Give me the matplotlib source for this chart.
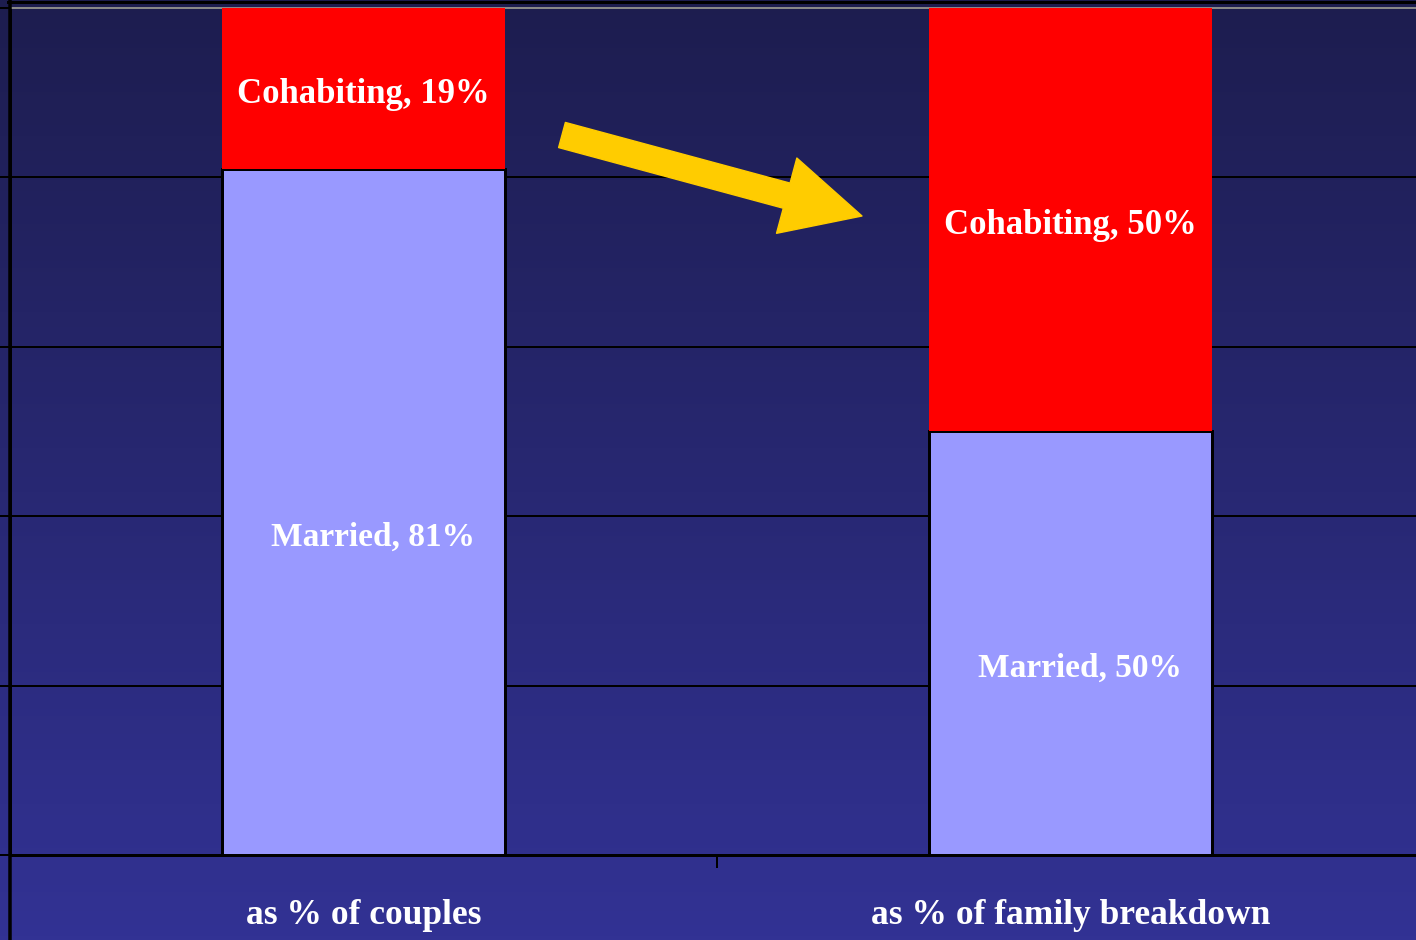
import matplotlib.pyplot as plt
import numpy as np
from matplotlib.patches import FancyArrowPatch
from matplotlib.lines import Line2D

categories = ['as % of couples', 'as % of family breakdown']
married = [81, 50]
cohabiting = [19, 50]

px = 0.72  # points per pixel at dpi 100

fig = plt.figure(figsize=(14.16, 9.4), dpi=100)

# background gradient, dark navy at top to lighter blue at bottom
bg = fig.add_axes([0, 0, 1, 1], zorder=-10)
grad = np.linspace(0, 1, 256).reshape(-1, 1)
top = np.array([0x1d, 0x1d, 0x4f]) / 255
bot = np.array([0x32, 0x32, 0x94]) / 255
img = top + grad[..., None] * (bot - top)
bg.imshow(img, aspect='auto', extent=[0, 1, 0, 1])
bg.axis('off')

ax = fig.add_axes([10 / 1416, 85 / 940, 1414 / 1416, 847 / 940])
ax.set_facecolor('none')
x = np.arange(len(categories))
b1 = ax.bar(x, married, width=0.4, color='#9999ff', edgecolor='black', linewidth=3 * px, zorder=3)
b2 = ax.bar(x, cohabiting, width=0.4, bottom=married, color='#ff0000', edgecolor='none', zorder=3)

ax.set_xlim(-0.5, 1.5)
ax.set_ylim(0, 100)
ax.set_yticks([0, 20, 40, 60, 80, 100])
ax.set_yticklabels([])
ax.yaxis.grid(True, color='black', linewidth=2 * px)
ax.set_axisbelow(True)
ax.get_ygridlines()[-1].set_color('#888888')
ax.tick_params(axis='y', direction='out', length=10 * px, width=2 * px, color='black')

ax.set_xticks(x)
ax.set_xticklabels([])
ax.tick_params(axis='x', which='major', length=0)
ax.set_xticks([-0.5, 0.5, 1.5], minor=True)
ax.tick_params(axis='x', which='minor', direction='out', length=13 * px, width=2 * px, color='black')

for s in ['left', 'bottom']:
    ax.spines[s].set_color('black')
    ax.spines[s].set_linewidth(3 * px)
ax.spines['right'].set_visible(False)
ax.spines['top'].set_color('#888888')
ax.spines['top'].set_linewidth(2 * px)

font = dict(family='Liberation Serif', weight='bold', color='white')
for i in range(len(categories)):
    ax.annotate(f'Married, {married[i]}%', (x[i], married[i] / 2), xytext=(7, -18),
                textcoords='offset points', ha='center', va='center', fontsize=24, zorder=5, **font)
    ax.annotate(f'Cohabiting, {cohabiting[i]}%', (x[i], married[i] + cohabiting[i] / 2),
                xytext=(0, -4), textcoords='offset points',
                ha='center', va='center', fontsize=25, zorder=5, **font)
    ax.text(x[i], -60 / 847, categories[i], transform=ax.get_xaxis_transform(),
            ha='center', va='center', fontsize=25.5, **font)

# yellow arrow between the bars
arrow = FancyArrowPatch((562 / 1416, 1 - 135 / 940), (862 / 1416, 1 - 216 / 940),
                        transform=fig.transFigure,
                        arrowstyle=f'simple,head_length={78 * px},head_width={78 * px},tail_width={26 * px}',
                        mutation_scale=1, shrinkA=0, shrinkB=0, color='#ffcc00', zorder=6)
fig.patches.append(arrow)

# slide frame lines
fig.lines.append(Line2D([8 / 1416, 1], [1 - 1.5 / 940, 1 - 1.5 / 940], transform=fig.transFigure,
                        color='black', linewidth=3 * px))
fig.lines.append(Line2D([9.8 / 1416, 9.8 / 1416], [0, 1], transform=fig.transFigure,
                        color='black', linewidth=3.5 * px))

fig.savefig('out.png', dpi=100)
